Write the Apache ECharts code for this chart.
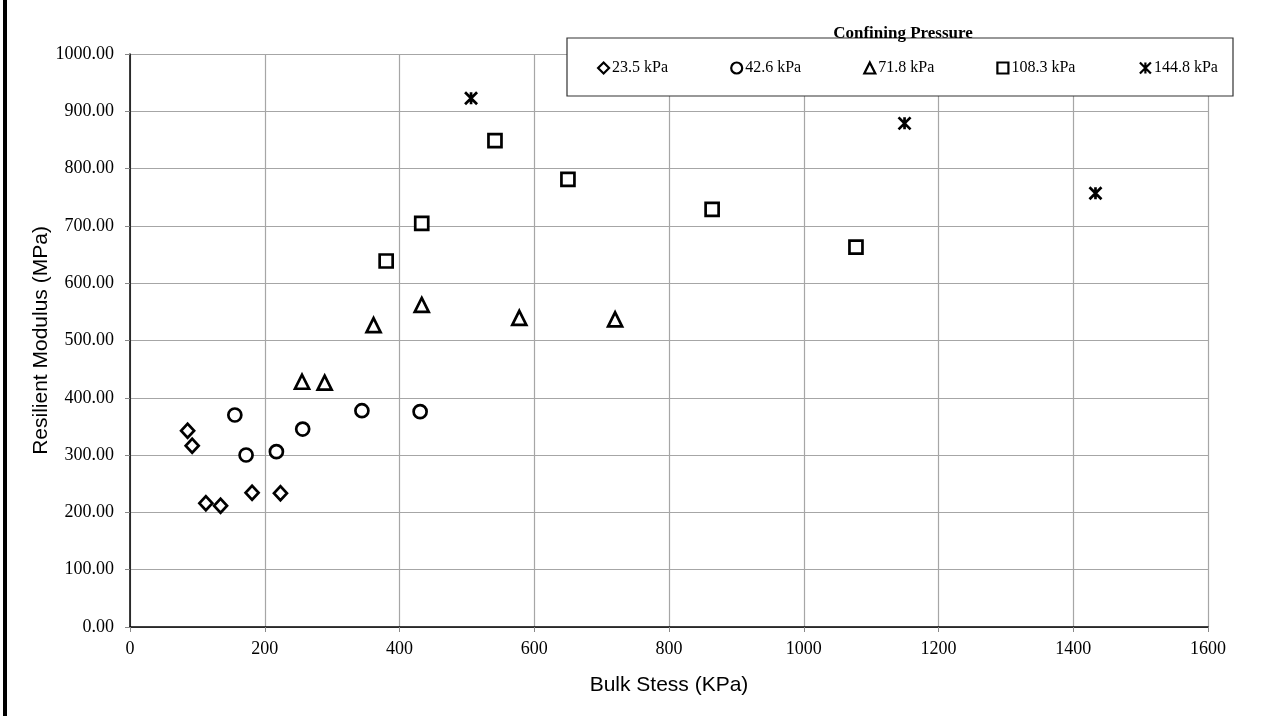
<!DOCTYPE html>
<html>
<head>
<meta charset="utf-8">
<script src="https://cdn.jsdelivr.net/npm/echarts@6/dist/echarts.min.js"></script>
<style>
  html, body { margin: 0; padding: 0; background: #fff; }
  #chart { width: 1273px; height: 716px; }
</style>
</head>
<body>
<div id="chart"></div>
<script>
// 围压分组
const pressureNames = ['23.5 kPa', '42.6 kPa', '71.8 kPa', '108.3 kPa', '144.8 kPa']

// [体应力 kPa, 回弹模量 MPa]
const p235 = [[85.5, 342.6], [92.3, 316.4], [112.6, 215.9], [134.4, 211.7], [181.2, 234.4], [223.3, 233.3]]
const p426 = [[155.6, 370], [172.3, 300.2], [217.3, 306], [256.3, 345.5], [344.2, 377.5], [430.6, 375.8]]
const p718 = [[255.3, 428], [288.9, 426.4], [361.5, 527], [433, 562], [577.8, 539.5], [720, 537]]
const p1083 = [[380.2, 638.7], [433, 704.5], [541.7, 848.7], [650, 781.3], [864, 729], [1077.5, 663]]
const p1448 = [[506.2, 922.7], [1149.6, 879], [1433, 757]]

const seriesData = [p235, p426, p718, p1083, p1448]
const symbols = ['diamond', 'circle', 'triangle', 'rect', 'path://M0 0L10 10M10 0L0 10M5 0L5 10']
const sizes = [[13, 14], 13, 14, 13, 12]

const serif = 'Liberation Serif, Times New Roman, serif'
const sans = 'Liberation Sans, Arial, sans-serif'

let series = seriesData.map((d, i) => {
  return {
    name: pressureNames[i],
    type: 'scatter',
    data: d,
    symbol: symbols[i],
    symbolSize: sizes[i],
    itemStyle: {
      color: i === 4 ? 'none' : '#fff',
      borderColor: '#000',
      borderWidth: 2.7,
      opacity: 1
    }
  }
})

let chart = echarts.init(document.getElementById('chart'))
let option = {
  animation: false,
  backgroundColor: '#fff',
  grid: {
    left: 130,
    right: 65,
    top: 54,
    bottom: 89
  },
  xAxis: {
    type: 'value',
    min: 0,
    max: 1600,
    interval: 200,
    name: 'Bulk Stess (KPa)',
    nameLocation: 'middle',
    nameGap: 48,
    nameMoveOverlap: false,
    nameTextStyle: { fontFamily: sans, fontSize: 21, color: '#000' },
    axisLine: { lineStyle: { color: '#000', width: 1.5 } },
    axisTick: { show: true, length: 5, lineStyle: { color: '#888' } },
    axisLabel: { fontFamily: serif, fontSize: 18, color: '#000', margin: 13, formatter: v => String(v) },
    splitLine: { lineStyle: { color: '#a6a6a6', width: 1.2 } }
  },
  yAxis: {
    type: 'value',
    min: 0,
    max: 1000,
    interval: 100,
    name: 'Resilient Modulus (MPa)',
    nameLocation: 'middle',
    nameGap: 78,
    nameMoveOverlap: false,
    nameTextStyle: { fontFamily: sans, fontSize: 21, color: '#000' },
    axisLine: { show: true, lineStyle: { color: '#000', width: 1.5 } },
    axisTick: { show: true, length: 5, lineStyle: { color: '#888' } },
    axisLabel: {
      fontFamily: serif,
      fontSize: 18,
      color: '#000',
      margin: 16,
      formatter: v => v.toFixed(2)
    },
    splitLine: { lineStyle: { color: '#a6a6a6', width: 1.2 } }
  },
  legend: {
    data: pressureNames,
    left: 597,
    top: 60,
    padding: 0,
    itemGap: 62,
    itemWidth: 11,
    itemHeight: 11,
    itemStyle: { borderWidth: 2.2 },
    textStyle: { fontFamily: serif, fontSize: 16, color: '#000', padding: [0, 0, 0, -2] },
    z: 20
  },
  graphic: [
    {
      // 左侧粗边框
      type: 'rect',
      shape: { x: 3, y: 0, width: 4, height: 716 },
      style: { fill: '#000' },
      z: 10
    },
    {
      // 图例边框
      type: 'rect',
      shape: { x: 567, y: 38, width: 666, height: 58 },
      style: { fill: '#fff', stroke: '#333', lineWidth: 1.2 },
      z: 10
    },
    {
      type: 'text',
      x: 903,
      y: 34,
      style: {
        text: 'Confining Pressure',
        fontFamily: serif,
        fontWeight: 'bold',
        fontSize: 17,
        fill: '#000',
        textAlign: 'center',
        textVerticalAlign: 'middle'
      },
      z: 11
    }
  ],
  series: series
}

option && chart.setOption(option)
</script>
</body>
</html>
